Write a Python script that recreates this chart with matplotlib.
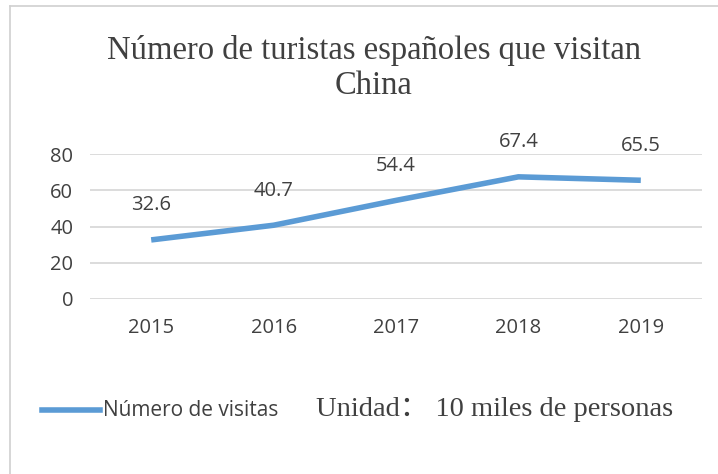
import matplotlib.pyplot as plt
from matplotlib.lines import Line2D

years = ["2015", "2016", "2017", "2018", "2019"]
visits = [32.6, 40.7, 54.4, 67.4, 65.5]
yticks = [0, 20, 40, 60, 80]

W, H = 718, 474
blue = "#5B9BD5"
txt = "#404040"
sans = "Open Sans"
serif = ["Liberation Serif", "Noto Sans CJK SC"]

fig = plt.figure(figsize=(W / 100, H / 100), dpi=100)
# axes: x 90..702 px, y 154..299 px
ax = fig.add_axes([90 / W, 1 - 299 / H, 612 / W, 145 / H])

x = list(range(len(years)))
ax.plot(x, visits, color=blue, lw=4, solid_capstyle="butt", label="Número de visitas")
for xi, v in zip(x, visits):
    ax.annotate(f"{v}", (xi, v), xytext=(0, 25), textcoords="offset points",
                ha="center", va="center", fontsize=14.5, color=txt, family=sans)

ax.set_xlim(-0.5, len(years) - 0.5)
ax.set_ylim(0, 80)
ax.set_yticks(yticks)
ax.set_xticks(x)
ax.set_xticklabels(years)
ax.grid(axis="y", color="#D9D9D9", lw=1.3)
ax.set_axisbelow(True)
for s in ax.spines.values():
    s.set_visible(False)
ax.tick_params(length=0, labelsize=14.5, colors=txt, pad=12)
ax.tick_params(axis="x", pad=14)
for lab in ax.get_xticklabels() + ax.get_yticklabels():
    lab.set_family(sans)

fig.text(374 / W, 1 - 68 / H, "Número de turistas españoles que visitan\nChina",
         ha="center", va="center", fontsize=23.5, color=txt, family="Liberation Serif",
         linespacing=1.2)

# legend
fig.add_artist(Line2D([42 / W, 100 / W], [1 - 410 / H] * 2, color=blue, lw=4))
fig.text(103 / W, 1 - 411 / H, "Número de visitas", ha="left", va="center",
         fontsize=15, color=txt, family=sans)
fig.text(316 / W, 1 - 409 / H, "Unidad： 10 miles de personas", ha="left", va="center",
         fontsize=20.5, color=txt, family=serif)

# outer frame (left and top only)
fig.add_artist(Line2D([10 / W, 10 / W], [0, 1 - 6 / H], color="#D0D0D0", lw=1.2))
fig.add_artist(Line2D([10 / W, 1], [1 - 6 / H] * 2, color="#D0D0D0", lw=1.2))

fig.savefig("out.png", dpi=100, facecolor="white")
